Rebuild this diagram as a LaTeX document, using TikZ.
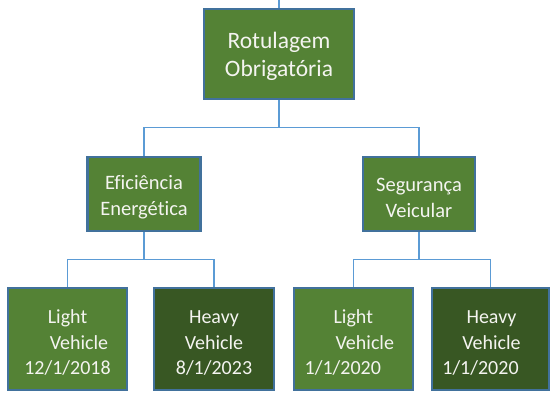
\documentclass[tikz,border=0pt]{standalone}
\usepackage{fontspec}
\setmainfont{Carlito}[Ligatures=NoCommon]
\definecolor{lgreen}{HTML}{548235}
\definecolor{dgreen}{HTML}{385723}
\definecolor{bord}{HTML}{41719C}
\definecolor{conn}{HTML}{5B9BD5}
\definecolor{txt}{HTML}{F4F4F0}
\begin{document}
\begin{tikzpicture}[x=1pt,y=-1pt,
  box/.style={draw=bord,line width=2.3pt,fill=lgreen,text=txt,inner sep=0pt,align=center},
  darkbox/.style={box,fill=dgreen},
  conline/.style={draw=conn,line width=1.5pt},
  fbig/.style={font=\fontsize{23.5}{28.7}\selectfont,text height=21pt},
  fmid/.style={font=\fontsize{20.5}{25.8}\selectfont,text height=21pt},
  fsmall/.style={font=\fontsize{20}{25.5}\selectfont,text height=21pt}]
\useasboundingbox (0,0) rectangle (551,393);
\coordinate (t) at (279,0);
\node[box,fbig,minimum width=150pt,minimum height=90pt,text width=150pt] (root) at (279,54) {Rotulagem\\Obrigatória};
\node[box,fmid,minimum width=113pt,minimum height=74pt,text width=113pt] (ef) at (144,194) {Eficiência\\Energética};
\node[box,fmid,minimum width=112.5pt,minimum height=74pt,text width=112.5pt] (sv) at (419,194) {Segurança\\Veicular};
\node[box,fsmall,minimum width=119pt,minimum height=102pt,text width=119pt] (l1) at (67.5,339) {Light\\\hspace*{23pt}Vehicle\\12/1/2018};
\node[darkbox,fsmall,minimum width=120pt,minimum height=102pt,text width=120pt] (h1) at (214,339) {Heavy\hspace*{12pt}\\Vehicle\\8/1/2023};
\node[box,fsmall,minimum width=119.3pt,minimum height=102pt,text width=119.3pt] (l2) at (353.3,339) {Light\\\hspace*{23pt}Vehicle\\1/1/2020\hspace*{21pt}};
\node[darkbox,fsmall,minimum width=117pt,minimum height=102pt,text width=117pt] (h2) at (490.5,339) {\hspace*{2pt}Heavy\\\hspace*{2pt}Vehicle\\1/1/2020\hspace*{20pt}};
\draw[conline] (t) -- (root.north);
\draw[conline] (root.south) -- ++(0,27.3) -| (ef.north);
\draw[conline] (root.south) -- ++(0,27.3) -| (sv.north);
\draw[conline] (ef.south) -- ++(0,27.5) -| (l1.north);
\draw[conline] (ef.south) -- ++(0,27.5) -| (h1.north);
\draw[conline] (sv.south) -- ++(0,27.5) -| (l2.north);
\draw[conline] (sv.south) -- ++(0,27.5) -| (h2.north);
\end{tikzpicture}
\end{document}
